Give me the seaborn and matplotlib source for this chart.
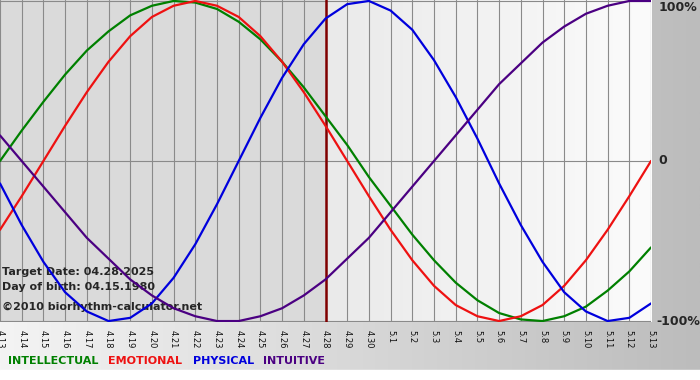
import numpy as np
import pandas as pd
import seaborn as sns
import matplotlib
matplotlib.use("Agg")
import matplotlib.pyplot as plt
from matplotlib.colors import LinearSegmentedColormap

# day labels 4.13 .. 5.13
day_labels = [f"4.{d}" for d in range(13, 31)] + [f"5.{d}" for d in range(1, 14)]

# values (-1 .. 1), one per day
intellectual = [0.00, 0.19, 0.37, 0.54, 0.69, 0.81, 0.91, 0.97, 1.00, 0.99, 0.95,
                0.87, 0.76, 0.62, 0.46, 0.28, 0.10, -0.10, -0.28, -0.46, -0.62,
                -0.76, -0.87, -0.95, -0.99, -1.00, -0.97, -0.91, -0.81, -0.69, -0.54]
emotional = [-0.43, -0.22, 0.00, 0.22, 0.43, 0.62, 0.78, 0.90, 0.97, 1.00, 0.97,
             0.90, 0.78, 0.62, 0.43, 0.22, 0.00, -0.22, -0.43, -0.62, -0.78,
             -0.90, -0.97, -1.00, -0.97, -0.90, -0.78, -0.62, -0.43, -0.22, 0.00]
physical = [-0.14, -0.40, -0.63, -0.82, -0.94, -1.00, -0.98, -0.89, -0.73, -0.52, -0.27,
            0.00, 0.27, 0.52, 0.73, 0.89, 0.98, 1.00, 0.94, 0.82, 0.63,
            0.40, 0.14, -0.14, -0.40, -0.63, -0.82, -0.94, -1.00, -0.98, -0.89]
intuitive = [0.16, 0.00, -0.16, -0.32, -0.48, -0.61, -0.74, -0.84, -0.92, -0.97, -1.00,
             -1.00, -0.97, -0.92, -0.84, -0.74, -0.61, -0.48, -0.32, -0.16, 0.00,
             0.16, 0.32, 0.48, 0.61, 0.74, 0.84, 0.92, 0.97, 1.00, 1.00]

series_names = ["INTELLECTUAL", "EMOTIONAL", "PHYSICAL", "INTUITIVE"]
colors = {"INTELLECTUAL": "#008000", "EMOTIONAL": "#ee1111",
          "PHYSICAL": "#0000dd", "INTUITIVE": "#4b0082"}
target_day = "4.28"

rows = []
for name, vals in zip(series_names, [intellectual, emotional, physical, intuitive]):
    for i, v in enumerate(vals):
        rows.append({"day": i, "value": v, "series": name})
df = pd.DataFrame(rows)

sns.set_style("white")
plt.rcParams["font.family"] = ["DejaVu Sans"]

fig = plt.figure(figsize=(7, 3.8), dpi=100)

# figure background: horizontal grey gradient, white strip at the very bottom
bg = fig.add_axes([0, 0, 1, 1], zorder=-5)
bg_cmap = LinearSegmentedColormap.from_list("bg", ["#f4f4f4", "#bcbcbc"])
bg.imshow(np.linspace(0, 1, 256)[None, :], cmap=bg_cmap, aspect="auto",
          extent=[0, 1, 0, 1])
bg.axhspan(0, 10 / 380, color="white")
bg.set_xlim(0, 1)
bg.set_ylim(0, 1)
bg.axis("off")

ax = fig.add_axes([0, 1 - 322 / 380, 651 / 700, 322 / 380])
n = len(day_labels)
t = day_labels.index(target_day)

# plot area backgrounds
ax.axvspan(0, t, color="#dadada", zorder=0)
right_cmap = LinearSegmentedColormap.from_list("rt", ["#eaeaea", "#fbfbfb"])
ax.imshow(np.linspace(0, 1, 256)[None, :], cmap=right_cmap, aspect="auto",
          extent=[t, n - 1, -1.1, 1.1], zorder=0)

sns.lineplot(data=df, x="day", y="value", hue="series", palette=colors,
             hue_order=series_names, legend=False, ax=ax, lw=1.6, zorder=4,
             solid_joinstyle="round")

ax.axvline(t, color="#800000", lw=1.8, zorder=3)

ax.set_xlim(0, n - 1)
ax.set_ylim(-1.006, 1.006)
ax.set_xticks(range(n))
ax.set_xticklabels(day_labels, rotation=-90, fontsize=6, color="#111111")
ax.set_yticks([-1, 0, 1])
ax.set_yticklabels([])
ax.tick_params(axis="x", length=4, width=0.8, color="#808080", pad=2)
ax.tick_params(axis="y", length=0)
ax.grid(True, color="#8a8a8a", lw=0.8, zorder=1)
ax.set_axisbelow(True)
for s in ax.spines.values():
    s.set_visible(False)
ax.set_xlabel("")
ax.set_ylabel("")

# right-hand percentage labels
lab_kw = dict(transform=ax.get_yaxis_transform(), fontsize=9, fontweight="bold",
              ha="left", clip_on=False)
ax.text(1.012, 1.0, "100%", va="top", **lab_kw)
ax.text(1.012, 0.0, "0", va="center", **lab_kw)
ax.text(1.008, -1.0, "-100%", va="center", **lab_kw)

# info text in the lower-left corner
info_kw = dict(transform=ax.transAxes, fontsize=8, fontweight="bold",
               ha="left", va="center", zorder=2)
ax.text(0.003, 1 - 272 / 322, "Target Date: 04.28.2025", **info_kw)
ax.text(0.003, 1 - 287 / 322, "Day of birth: 04.15.1980", **info_kw)
ax.text(0.003, 1 - 307 / 322, "\u00a92010 biorhythm-calculator.net", **info_kw)

# coloured legend words along the bottom
legend_x = [8, 108, 193, 263]
for name, x in zip(series_names, legend_x):
    fig.text(x / 700, 1 - 361 / 380, name, color=colors[name], fontsize=8,
             fontweight="bold", ha="left", va="center")

fig.savefig("out.png", dpi=100)
